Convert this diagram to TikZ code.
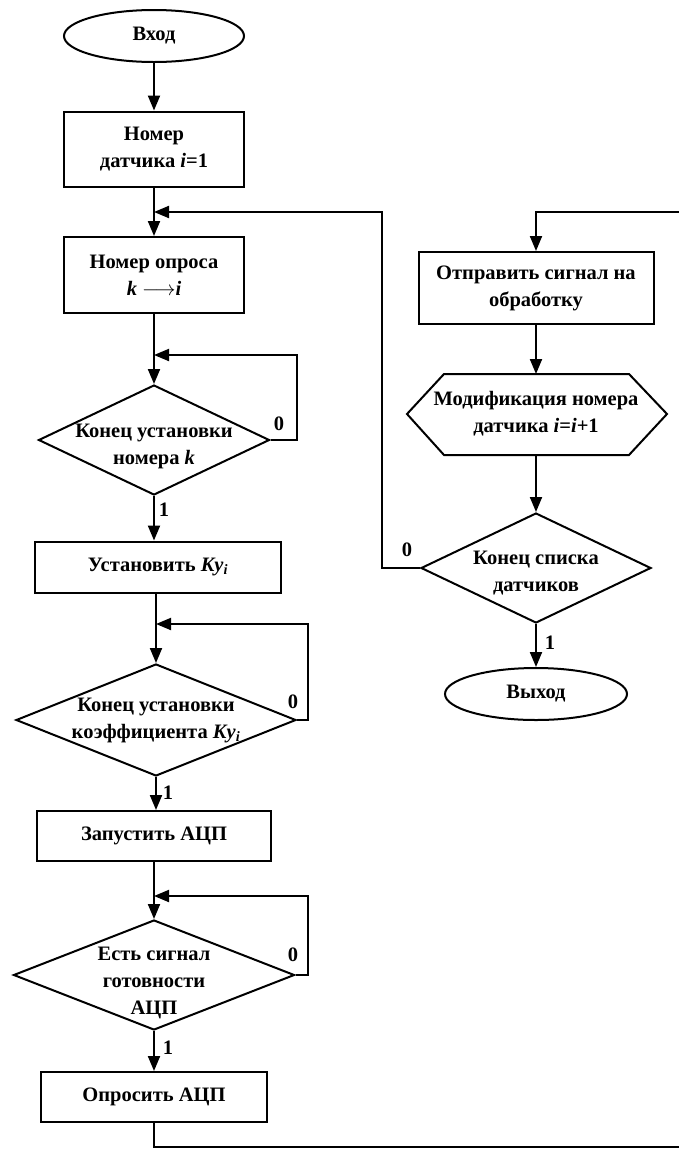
\documentclass[tikz,border=0pt]{standalone}
\usepackage{fontspec}
\setmainfont{Liberation Serif}
\usetikzlibrary{positioning, arrows.meta, shapes.geometric}

\begin{document}
\begin{tikzpicture}[
    x=1pt, y=-1pt,
    every node/.style={font=\fontsize{20.5}{27}\selectfont\bfseries},
    linia/.style={line width=2pt},
    strelka/.style={linia, -{Triangle[length=15pt, width=12pt]}},
    blok/.style={draw, linia, align=center, inner sep=2pt},
    uslovie/.style={draw, linia, diamond, inner sep=0pt},
    terminal/.style={draw, linia, ellipse, inner sep=0pt},
    tekst/.style={align=center, inner sep=0pt},
    metka/.style={inner sep=1pt}
]
\useasboundingbox (0,0) rectangle (678,1152);

% left column
\node[terminal, minimum width=180pt, minimum height=52pt] (vhod) at (154,36) {Вход};
\node[blok, minimum width=180pt, minimum height=75pt] (nomer) at (154,149) {Номер\\датчика \textit{i}=1};
\node[blok, minimum width=180pt, minimum height=76pt] (nomerop) at (154,275) {Номер опроса\\\textit{k}~$\longrightarrow$\textit{i}};
\node[uslovie, minimum width=231pt, minimum height=110pt] (konec1) at (154,440) {};
\node[tekst] (konec1t) at ([yshift=-6pt]konec1.center) {Конец установки\\номера \textit{k}};
\node[blok, minimum width=246pt, minimum height=51pt] (ustKy) at (158,567) {Установить \textit{Ky}\textsubscript{\textit{i}}};
\node[uslovie, minimum width=280pt, minimum height=112pt] (konec2) at (156,720) {};
\node[tekst] (konec2t) at (konec2.center) {Конец установки\\коэффициента \textit{Ky}\textsubscript{\textit{i}}};
\node[blok, minimum width=234pt, minimum height=50pt] (zapusk) at (154,836) {Запустить АЦП};
\node[uslovie, minimum width=281pt, minimum height=110pt] (gotov) at (154,975) {};
\node[tekst] (gotovt) at ([yshift=-8pt]gotov.center) {Есть сигнал\\готовности\\АЦП};
\node[blok, minimum width=226pt, minimum height=50pt] (opros) at (154,1097) {Опросить АЦП};

% right column
\node[blok, minimum width=235pt, minimum height=72pt] (otpr) at (536,288) {Отправить сигнал на\\обработку};
\node[tekst] (modif) at (536,414) {Модификация номера\\датчика \textit{i}=\textit{i}+1};
\draw[linia] ([shift={(-92,-40)}]modif.center) -- ++(185,0) -- ++(38,40) -- ++(-38,41)
    -- ++(-185,0) -- ++(-37,-41) -- cycle;
\coordinate (modverh) at ([yshift=40pt]modif.center);
\coordinate (modniz) at ([yshift=-41pt]modif.center);
\node[uslovie, minimum width=230pt, minimum height=110pt] (konec4) at (536,568) {};
\node[tekst] (konec4t) at ([yshift=-5pt]konec4.center) {Конец списка\\датчиков};
\node[terminal, minimum width=182pt, minimum height=52pt] (vyhod) at (536,694) {Выход};

% junctions
\coordinate (j0) at (154,212);
\coordinate (j1) at (154,355);
\coordinate (j2) at (156,624);
\coordinate (j3) at (154,896);
\coordinate (pravo) at (682,212);
\coordinate (niz) at (682,1147);

\draw[strelka] (vhod.south) -- (nomer.north);
\draw[strelka] (nomer.south) -- (nomerop.north);
\draw[strelka] (nomerop.south) -- (konec1.north);
\draw[strelka] (konec1.east) -- ++(26,0) |- (j1);
\draw[strelka] (konec1.south) -- (konec1.south |- ustKy.north);
\draw[strelka] (ustKy.south -| konec2.north) -- (konec2.north);
\draw[strelka] (konec2.east) -- ++(11,0) |- (j2);
\draw[strelka] (konec2.south) -- (konec2.south |- zapusk.north);
\draw[strelka] (zapusk.south) -- (gotov.north);
\draw[strelka] (gotov.east) -- ++(12,0) |- (j3);
\draw[strelka] (gotov.south) -- (opros.north);
\draw[strelka] (opros.south) |- (niz) -- (pravo) -| (otpr.north);
\draw[strelka] (otpr.south) -- (modverh);
\draw[strelka] (modniz) -- (konec4.north);
\draw[strelka] (konec4.south) -- (vyhod.north);
\draw[strelka] (konec4.west) -- ++(-38,0) |- (j0);

% labels
\node[metka] (nol1) at (279,424) {0};
\node[metka] (nol2) at (293,702) {0};
\node[metka] (nol3) at (293,955) {0};
\node[metka] (nol4) at (407,550) {0};
\node[metka] (edin1) at (164,510) {1};
\node[metka] (edin2) at (168,793) {1};
\node[metka] (edin3) at (168,1048) {1};
\node[metka] (edin4) at (550,643) {1};
\end{tikzpicture}
\end{document}
